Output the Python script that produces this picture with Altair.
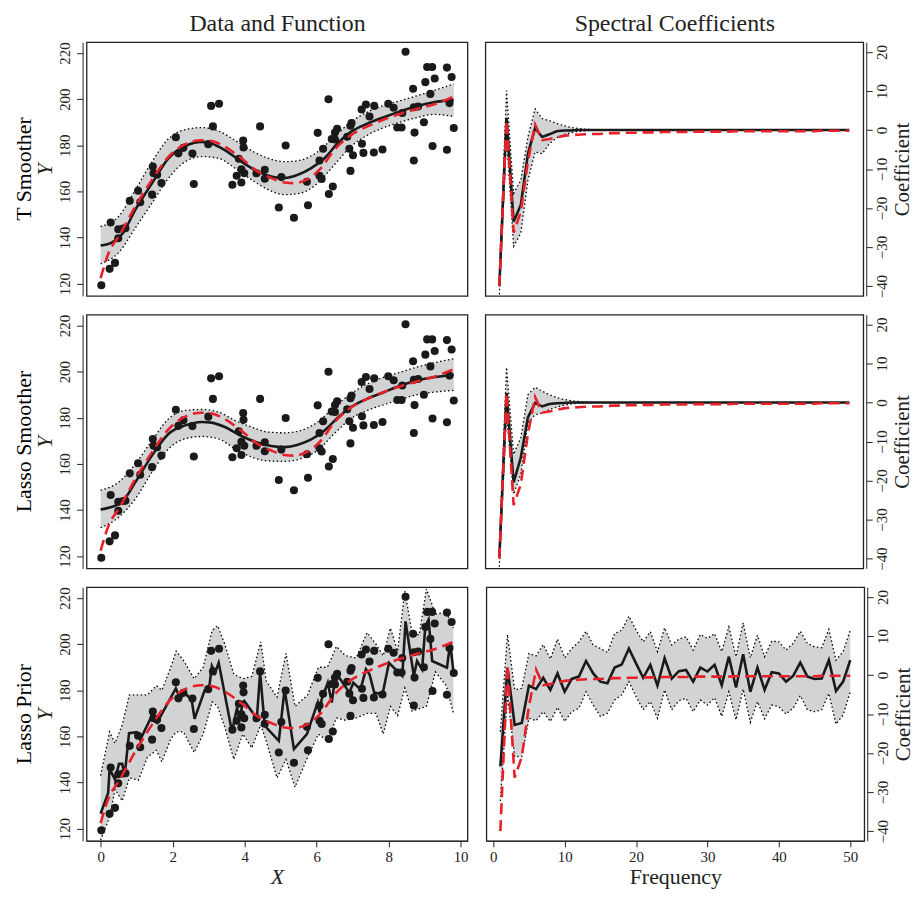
import altair as alt
import pandas as pd

FONT = "Liberation Serif"
RED = "#E8202A"
BAND = "#D2D3D5"

# ---------------- observed data (same in all left panels) ----------------
points = [
    (0.02, 119.3), (0.25, 126.4), (0.40, 129.0), (0.28, 146.5), (0.49, 139.7),
    (0.49, 143.6), (0.62, 143.9), (0.69, 144.0), (0.81, 155.9), (1.04, 160.3),
    (1.10, 155.3), (1.43, 158.6), (1.45, 170.8), (1.47, 167.9), (1.57, 167.2),
    (1.69, 163.6), (2.09, 183.5), (2.16, 176.5), (2.30, 178.9), (2.55, 176.4),
    (2.59, 163.2), (2.99, 180.5), (3.07, 197.1), (3.29, 198.0), (3.12, 188.2),
    (3.96, 182.1), (3.97, 179.1), (3.84, 174.2), (3.91, 169.6), (3.99, 167.9),
    (3.78, 166.8), (3.66, 162.9), (3.91, 163.9), (4.33, 167.9), (4.43, 188.2),
    (4.56, 169.4), (4.56, 165.5), (4.95, 153.0), (5.02, 166.2), (5.14, 179.9),
    (5.37, 148.6), (5.73, 164.2), (5.76, 154.0), (6.03, 185.4), (6.08, 173.4),
    (6.08, 166.8), (6.14, 165.4), (6.18, 178.5), (6.33, 200.0), (6.34, 158.9),
    (6.45, 162.1), (6.42, 182.7), (6.51, 185.5), (6.57, 187.2), (6.51, 182.5),
    (6.85, 183.7), (6.94, 188.5), (6.97, 189.7), (6.91, 178.5), (7.01, 175.7),
    (6.94, 168.9), (7.25, 195.5), (7.37, 197.7), (7.47, 192.5), (7.26, 180.7),
    (7.30, 176.7), (7.59, 176.9), (7.60, 197.1), (7.83, 178.2), (7.99, 198.0),
    (8.14, 196.3), (8.24, 187.7), (8.36, 187.7), (8.38, 194.0), (8.68, 204.5),
    (8.70, 196.5), (8.72, 185.5), (8.70, 173.4), (8.98, 190.0), (9.02, 207.4),
    (9.07, 214.0), (9.21, 214.0), (9.16, 202.3), (9.28, 209.0), (9.22, 179.7),
    (9.62, 213.7), (9.62, 178.1), (9.75, 209.6), (9.69, 198.3), (9.81, 187.5),
    (8.47, 220.6), (8.82, 196.8),
]

# true function (red dashed), left panels
truth = [
    (0.00, 122.4), (0.23, 133.6), (0.51, 140.7), (0.97, 153.6), (1.43, 165.1),
    (1.89, 175.1), (2.35, 180.5), (2.81, 182.2), (3.08, 181.9), (3.45, 179.4),
    (3.91, 174.4), (4.37, 168.6), (4.74, 165.8), (5.11, 163.9), (5.39, 163.6),
    (5.76, 165.4), (6.12, 170.1), (6.49, 178.0), (6.95, 184.4), (7.41, 188.2),
    (7.87, 191.2), (8.33, 193.7), (8.79, 195.8), (9.25, 197.7), (9.81, 201.1),
]

fit_x = [0.00, 0.32, 0.60, 0.97, 1.43, 1.89, 2.35, 2.81, 3.08, 3.45, 3.91, 4.37,
         4.74, 5.11, 5.48, 5.85, 6.22, 6.58, 6.95, 7.41, 7.87, 8.33, 8.79, 9.25, 9.81]
t_fit = [136.5, 137.9, 141.5, 152.2, 163.6, 174.4, 179.7, 181.5, 180.8, 177.9, 172.9, 168.6,
         166.5, 165.8, 167.2, 170.1, 174.4, 180.8, 185.8, 189.4, 192.2, 194.8, 197.1, 198.7, 199.7]
l_fit = [140.2, 141.4, 143.5, 152.2, 163.7, 173.1, 176.7, 178.2, 177.9, 176.0, 172.1, 169.2,
         167.8, 167.3, 168.3, 170.6, 174.5, 179.9, 184.6, 188.3, 191.1, 194.0, 196.2, 197.6, 198.6]

band_x = [0.00, 0.51, 0.97, 1.43, 1.89, 2.35, 2.81, 3.27, 3.73, 4.19, 4.65,
          5.11, 5.57, 6.03, 6.49, 6.95, 7.41, 7.87, 8.33, 8.79, 9.25, 9.81]
t_hi = [144.8, 149.3, 160.8, 172.9, 182.9, 186.8, 187.7, 186.2, 182.2, 177.7, 174.4,
        172.9, 173.6, 177.2, 183.7, 190.1, 194.4, 197.3, 199.4, 201.5, 203.7, 206.6]
t_lo = [128.6, 133.6, 144.3, 155.0, 165.8, 172.9, 175.1, 174.4, 170.1, 165.1, 160.8,
        158.6, 159.3, 163.6, 171.5, 179.4, 184.4, 187.7, 190.1, 192.0, 193.4, 192.5]
l_hi = [148.6, 152.2, 160.1, 170.2, 179.6, 183.2, 183.6, 182.5, 178.9, 176.0, 173.8,
        173.5, 174.5, 178.2, 184.6, 190.4, 194.7, 197.6, 199.8, 202.0, 203.8, 205.6]
l_lo = [132.3, 137.0, 145.0, 156.5, 166.6, 170.9, 171.9, 170.9, 166.6, 163.0, 161.3,
        161.1, 162.3, 165.9, 173.1, 179.6, 183.2, 185.7, 188.0, 190.0, 191.1, 191.9]

# lasso prior fit (bottom-left)
prior_fit = [
    (0.00, 126.5), (0.21, 135.5), (0.25, 145.9), (0.40, 141.3), (0.51, 148.1),
    (0.60, 148.1), (0.67, 143.3), (0.79, 161.4), (1.01, 161.8), (1.10, 158.5),
    (1.38, 167.5), (1.43, 170.2), (1.57, 166.0), (2.09, 180.8), (2.21, 176.5),
    (2.35, 178.7), (2.53, 175.8), (2.61, 167.6), (2.89, 180.0), (3.01, 180.4),
    (3.09, 190.5), (3.18, 187.6), (3.28, 191.9), (3.65, 162.0), (3.79, 172.5),
    (3.85, 167.2), (3.96, 175.0), (3.99, 175.4), (4.34, 167.8), (4.43, 187.6),
    (4.56, 164.6), (4.95, 158.1), (5.11, 180.4), (5.37, 154.5), (5.73, 161.0),
    (6.03, 174.7), (6.08, 170.4), (6.14, 176.1), (6.20, 178.6), (6.31, 183.3),
    (6.42, 174.7), (6.51, 184.7), (6.60, 186.2), (6.91, 179.0), (7.02, 183.3),
    (7.22, 180.4), (7.37, 189.1), (7.47, 186.9), (7.60, 179.0), (7.83, 178.3),
    (8.01, 191.9), (8.24, 188.3), (8.38, 186.2), (8.47, 209.9), (8.70, 186.2),
    (8.79, 192.7), (8.93, 189.1), (9.02, 207.8), (9.11, 210.6), (9.21, 192.7),
    (9.62, 189.8), (9.71, 200.5), (9.81, 186.8),
]
prior_band_x = [0.00, 0.25, 0.40, 0.60, 0.80, 1.05, 1.30, 1.55, 1.70, 1.95, 2.10, 2.30,
                2.60, 2.85, 3.10, 3.25, 3.45, 3.70, 3.95, 4.20, 4.45, 4.60, 4.90, 5.15,
                5.40, 5.75, 6.05, 6.30, 6.55, 6.80, 7.10, 7.40, 7.65, 7.85, 8.05, 8.25,
                8.45, 8.65, 8.85, 9.05, 9.30, 9.60, 9.80]
prior_hi = [143, 162, 157, 165, 178, 178, 178, 182, 180, 190, 197, 193,
            185, 190, 206, 208, 200, 187, 185, 186, 201, 184, 177, 196,
            173, 178, 190, 190, 199, 195, 194, 205, 200, 195, 207, 197,
            223, 205, 204, 224, 213, 214, 207]
prior_lo = [115, 125, 137, 132, 142, 141, 151, 154, 149, 159, 162, 162,
            153, 161, 175, 173, 164, 150, 161, 155, 165, 158, 142, 150,
            138, 151, 161, 158, 168, 167, 168, 170, 170, 161, 173, 169,
            181, 171, 172, 173, 188, 182, 170]

# ---------------- spectral coefficients ----------------
freq = list(range(1, 51))
true_coef = [-40.0, 2.5, -26.3, -21.0, -8.0, 1.4, -2.6, -2.3, -1.9, -1.5,
             -1.3, -1.2, -1.1, -1.0, -1.0, -0.9, -0.8, -0.8, -0.7, -0.7,
             -0.6, -0.6, -0.6, -0.5, -0.5, -0.5, -0.5, -0.4, -0.4, -0.4,
             -0.4, -0.4, -0.4, -0.3, -0.3, -0.3, -0.3, -0.3, -0.3, -0.3,
             -0.3, -0.3, -0.3, -0.3, -0.3, -0.2, -0.2, -0.2, -0.2, -0.2]
t_coef = [-40.0, 3.1, -23.5, -19.2, -6.1, 0.5, -1.8, -1.1, -0.3, -0.1,
          -0.1, 0.0, 0.0, 0.0, 0.0, 0.0, 0.0, 0.0, 0.0, 0.0,
          0.0, 0.0, 0.0, 0.0, 0.0, 0.0, 0.0, 0.0, 0.0, 0.0,
          0.0, 0.0, 0.0, 0.0, 0.0, 0.0, 0.0, 0.0, 0.0, 0.0,
          0.0, 0.0, 0.0, 0.0, 0.0, 0.0, 0.0, 0.0, 0.0, 0.0]
t_coef_hi = [-38.0, 10.1, -16.2, -12.9, -1.8, 5.4, 2.9, 2.4, 1.7, 1.1,
             0.7, 0.4, 0.2, 0.1, 0.1, 0.0, 0.0, 0.0, 0.0, 0.0,
             0.0, 0.0, 0.0, 0.0, 0.0, 0.0, 0.0, 0.0, 0.0, 0.0,
             0.0, 0.0, 0.0, 0.0, 0.0, 0.0, 0.0, 0.0, 0.0, 0.0,
             0.0, 0.0, 0.0, 0.0, 0.0, 0.0, 0.0, 0.0, 0.0, 0.0]
t_coef_lo = [-42.1, -1.8, -29.8, -26.4, -12.9, -5.6, -6.1, -3.5, -2.0, -1.2,
             -0.7, -0.4, -0.2, -0.1, -0.1, 0.0, 0.0, 0.0, 0.0, 0.0,
             0.0, 0.0, 0.0, 0.0, 0.0, 0.0, 0.0, 0.0, 0.0, 0.0,
             0.0, 0.0, 0.0, 0.0, 0.0, 0.0, 0.0, 0.0, 0.0, 0.0,
             0.0, 0.0, 0.0, 0.0, 0.0, 0.0, 0.0, 0.0, 0.0, 0.0]
l_coef = [-39.6, 2.4, -20.5, -14.1, -3.8, -0.1, -1.0, -0.4, -0.2, -0.1,
          0.0, 0.0, 0.0, 0.0, 0.0, 0.0, 0.0, 0.0, 0.0, 0.0,
          0.0, 0.0, 0.0, 0.0, 0.0, 0.0, 0.0, 0.0, 0.0, 0.0,
          0.0, 0.0, 0.0, 0.0, 0.0, 0.0, 0.0, 0.0, 0.0, 0.0,
          0.0, 0.0, 0.0, 0.0, 0.0, 0.0, 0.0, 0.0, 0.0, 0.0]
l_coef_hi = [-37.5, 9.0, -13.3, -9.0, 2.0, 3.9, 2.9, 2.0, 1.3, 0.8,
             0.5, 0.3, 0.1, 0.1, 0.0, 0.0, 0.0, 0.0, 0.0, 0.0,
             0.0, 0.0, 0.0, 0.0, 0.0, 0.0, 0.0, 0.0, 0.0, 0.0,
             0.0, 0.0, 0.0, 0.0, 0.0, 0.0, 0.0, 0.0, 0.0, 0.0,
             0.0, 0.0, 0.0, 0.0, 0.0, 0.0, 0.0, 0.0, 0.0, 0.0]
l_coef_lo = [-42.1, -3.0, -23.5, -18.4, -5.2, -3.1, -2.7, -1.8, -1.2, -0.7,
             -0.4, -0.2, -0.1, -0.1, 0.0, 0.0, 0.0, 0.0, 0.0, 0.0,
             0.0, 0.0, 0.0, 0.0, 0.0, 0.0, 0.0, 0.0, 0.0, 0.0,
             0.0, 0.0, 0.0, 0.0, 0.0, 0.0, 0.0, 0.0, 0.0, 0.0,
             0.0, 0.0, 0.0, 0.0, 0.0, 0.0, 0.0, 0.0, 0.0, 0.0]
p_coef = [-23.4, 1.9, -12.8, -12.3, -2.7, -3.6, -0.7, -3.8, 0.4, -4.3,
          -1.0, -0.4, 3.6, 0.4, -1.7, -2.1, 1.9, 2.7, 6.8, 3.0,
          -0.7, 2.6, -2.7, 4.3, -0.9, 1.0, 1.3, -1.7, 1.9, 0.9,
          2.6, -2.6, 4.7, -3.2, 5.3, -4.3, 1.9, -3.8, 0.7, 0.4,
          -1.7, -0.2, 3.2, -0.4, -1.0, -0.9, 3.8, -4.1, -1.7, 3.8]
p_coef_hi = [-14.5, 10.4, -3.8, -3.4, 5.5, 4.9, 7.8, 4.1, 9.2, 4.4,
             6.8, 8.5, 11.2, 7.7, 6.8, 5.8, 10.6, 11.5, 15.1, 11.5,
             8.5, 11.1, 6.0, 12.1, 7.7, 9.2, 9.8, 6.4, 10.4, 9.4,
             10.6, 6.0, 12.3, 4.7, 13.4, 4.4, 10.2, 4.7, 8.7, 8.5,
             6.4, 8.1, 11.2, 8.1, 7.2, 7.0, 11.7, 3.8, 6.0, 11.5]
p_coef_lo = [-32.3, -5.1, -20.9, -20.9, -11.1, -11.7, -9.4, -11.9, -8.3, -11.9,
             -9.4, -8.5, -4.3, -7.7, -10.6, -9.8, -6.4, -5.1, -1.7, -5.5,
             -8.9, -6.8, -11.1, -3.8, -8.9, -6.6, -6.0, -9.4, -6.4, -7.7,
             -5.8, -10.6, -4.3, -11.5, -3.6, -12.1, -6.8, -11.2, -7.7, -8.1,
             -10.0, -8.5, -5.3, -8.9, -9.4, -8.9, -4.7, -12.6, -10.2, -4.3]

x_ticks_left = [0, 2, 4, 6, 8, 10]
y_ticks_left = [120, 140, 160, 180, 200, 220]
x_ticks_right = [0, 10, 20, 30, 40, 50]
y_ticks_right = [-40, -30, -20, -10, 0, 10, 20]

W_L, W_R = 383, 380
H = 255

XL = alt.Scale(domain=[-0.39, 10.19], nice=False, zero=False)
YL = alt.Scale(domain=[114.7, 224.7], nice=False, zero=False)
XR = alt.Scale(domain=[-0.96, 51.96], nice=False, zero=False)
YR = alt.Scale(domain=[-42.5, 22.5], nice=False, zero=False)


def x_axis(kind, ticks, title, col_title):
    if kind == "bottom":
        return alt.Axis(values=ticks, title=title, titleFontStyle="italic" if title == "X" else "normal",
                        offset=0, tickSize=6, labelPadding=3, titlePadding=2)
    if kind == "top":
        return alt.Axis(orient="top", title=col_title, labels=False, ticks=False, domain=False,
                        titleFontSize=24, titlePadding=7)
    return None


def left_panel(band_df, fit_df, fit_smooth, kind, row_label):
    interp = "monotone" if fit_smooth else "linear"
    xa = x_axis(kind, x_ticks_left, "X", "Data and Function")
    ya = alt.Axis(values=y_ticks_left, title="Y", titleFontStyle="italic", labelAngle=270,
                  offset=4, tickSize=6, labelPadding=4, titlePadding=1)
    X = alt.X("x:Q", scale=XL, axis=xa)
    base_b = alt.Chart(band_df)
    area = base_b.mark_area(color=BAND, interpolate=interp, clip=True).encode(
        x=X, y=alt.Y("lo:Q", scale=YL, axis=ya), y2="hi:Q")
    hi = base_b.mark_line(color="black", strokeDash=[1.5, 2.5], strokeWidth=1.3,
                          interpolate=interp, clip=True).encode(
        x=X, y=alt.Y("hi:Q", scale=YL, axis=ya))
    lo = base_b.mark_line(color="black", strokeDash=[1.5, 2.5], strokeWidth=1.3,
                          interpolate=interp, clip=True).encode(
        x=X, y=alt.Y("lo:Q", scale=YL, axis=ya))
    pts = alt.Chart(pd.DataFrame(points, columns=["x", "y"])).mark_circle(
        color="#1a1a1a", opacity=1, size=66, clip=True).encode(
        x=X, y=alt.Y("y:Q", scale=YL, axis=ya))
    fit = alt.Chart(fit_df).mark_line(color="#1a1a1a", strokeWidth=2.6, interpolate=interp,
                                      clip=True).encode(
        x=X, y=alt.Y("y:Q", scale=YL, axis=ya))
    tru = alt.Chart(pd.DataFrame(truth, columns=["x", "y"])).mark_line(
        color=RED, strokeWidth=2.6, strokeDash=[11, 6], interpolate="monotone", clip=True).encode(
        x=X, y=alt.Y("y:Q", scale=YL, axis=ya))
    return alt.layer(area, hi, lo, pts, fit, tru).properties(
        width=W_L, height=H,
        title=alt.TitleParams(row_label, orient="left", anchor="middle", frame="group",
                              fontSize=22, font=FONT, fontWeight="normal", offset=-2))


def right_panel(coef, hi_v, lo_v, kind):
    df = pd.DataFrame({"f": freq, "c": coef, "hi": hi_v, "lo": lo_v, "t": true_coef})
    xa = x_axis(kind, x_ticks_right, "Frequency", "Spectral Coefficients")
    ya = alt.Axis(values=y_ticks_right, title="Coefficient", orient="right", labelAngle=270,
                  titleAngle=270, titleBaseline="top", offset=3, tickSize=6, labelPadding=2,
                  titlePadding=2, titleFontSize=21)
    X = alt.X("f:Q", scale=XR, axis=xa)
    base = alt.Chart(df)
    area = base.mark_area(color=BAND, clip=True).encode(
        x=X, y=alt.Y("lo:Q", scale=YR, axis=ya), y2="hi:Q")
    hi = base.mark_line(color="black", strokeDash=[1.5, 2.5], strokeWidth=1.3, clip=True).encode(
        x=X, y=alt.Y("hi:Q", scale=YR, axis=ya))
    lo = base.mark_line(color="black", strokeDash=[1.5, 2.5], strokeWidth=1.3, clip=True).encode(
        x=X, y=alt.Y("lo:Q", scale=YR, axis=ya))
    fit = base.mark_line(color="#1a1a1a", strokeWidth=2.6, clip=True).encode(
        x=X, y=alt.Y("c:Q", scale=YR, axis=ya))
    tru = base.mark_line(color=RED, strokeWidth=2.6, strokeDash=[11, 6], clip=True).encode(
        x=X, y=alt.Y("t:Q", scale=YR, axis=ya))
    return alt.layer(area, hi, lo, fit, tru).properties(width=W_R, height=H)


t_band = pd.DataFrame({"x": band_x, "hi": t_hi, "lo": t_lo})
l_band = pd.DataFrame({"x": band_x, "hi": l_hi, "lo": l_lo})
p_band = pd.DataFrame({"x": prior_band_x, "hi": prior_hi, "lo": prior_lo})
t_fit_df = pd.DataFrame({"x": fit_x, "y": t_fit})
l_fit_df = pd.DataFrame({"x": fit_x, "y": l_fit})
p_fit_df = pd.DataFrame(prior_fit, columns=["x", "y"])

HSP = 16
row1 = alt.hconcat(left_panel(t_band, t_fit_df, True, "top", "T Smoother"),
                   right_panel(t_coef, t_coef_hi, t_coef_lo, "top"), spacing=HSP)
row2 = alt.hconcat(left_panel(l_band, l_fit_df, True, "none", "Lasso Smoother"),
                   right_panel(l_coef, l_coef_hi, l_coef_lo, "none"), spacing=HSP)
row3 = alt.hconcat(left_panel(p_band, p_fit_df, False, "bottom", "Lasso Prior"),
                   right_panel(p_coef, p_coef_hi, p_coef_lo, "bottom"), spacing=HSP)

chart = alt.vconcat(row1, row2, row3, spacing=14).properties(
    padding={"left": 4, "top": 0, "right": 0, "bottom": 0}
).configure(font=FONT).configure_axis(
    labelFont=FONT, titleFont=FONT, labelFontSize=15, titleFontSize=22,
    labelColor="#222", titleColor="#222", tickColor="#222", domainColor="#222",
    titleFontWeight="normal", grid=False, domainWidth=1, tickWidth=1,
).configure_view(stroke="#222", strokeWidth=1.3)

chart.save("out.html", embed_options={"renderer": "svg", "actions": False})
